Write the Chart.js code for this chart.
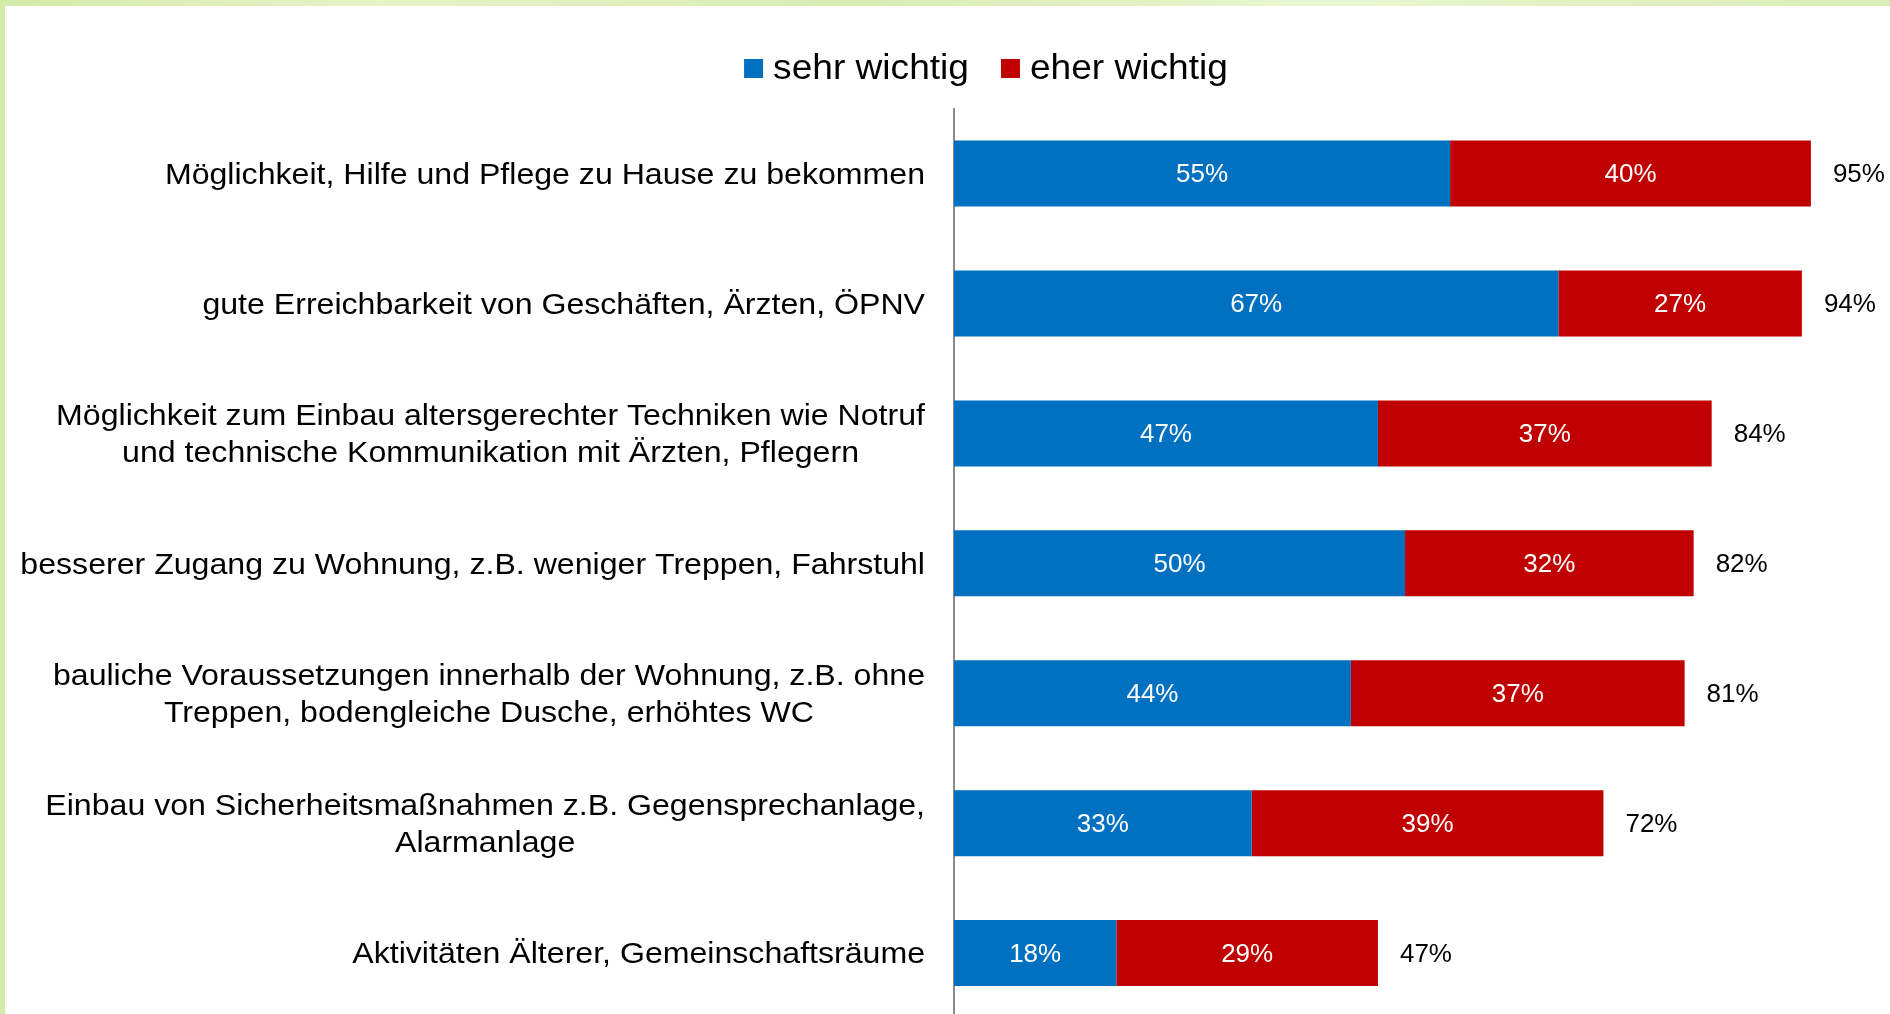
<!DOCTYPE html>
<html>
<head>
<meta charset="utf-8">
<script src="https://cdn.jsdelivr.net/npm/chart.js@4/dist/chart.umd.min.js"></script>
<style>
  html, body { margin: 0; padding: 0; overflow: hidden; width: 1890px; height: 1014px; }
  body { background: linear-gradient(90deg, #d4eaa8 0%, #e6f4c8 20%, #d8ecb2 45%, #eaf6d2 70%, #d9edb4 100%); }
  #wrap { position: absolute; left: 5px; top: 6px; width: 1885px; height: 1016px; background: #ffffff; }
</style>
</head>
<body>
<div id="wrap"><canvas id="c"></canvas></div>
<script>
const categories = [
  ["Möglichkeit, Hilfe und Pflege zu Hause zu bekommen"],
  ["gute Erreichbarkeit von Geschäften, Ärzten, ÖPNV"],
  ["Möglichkeit zum Einbau altersgerechter Techniken wie Notruf", "und technische Kommunikation mit Ärzten, Pflegern"],
  ["besserer Zugang zu Wohnung, z.B. weniger Treppen, Fahrstuhl"],
  ["bauliche Voraussetzungen innerhalb der Wohnung, z.B. ohne", "Treppen, bodengleiche Dusche, erhöhtes WC"],
  ["Einbau von Sicherheitsmaßnahmen z.B. Gegensprechanlage,", "Alarmanlage"],
  ["Aktivitäten Älterer, Gemeinschaftsräume"]
];
const seriesNames = ["sehr wichtig", "eher wichtig"];
const sehrWichtig = [55, 67, 47, 50, 44, 33, 18];
const eherWichtig = [40, 27, 37, 32, 37, 39, 29];
const seriesColors = ["#0070C0", "#C00000"];

const FONT = "'Liberation Sans', Arial, sans-serif";

function stretchText(ctx, text, x, y, sx) {
  ctx.save();
  ctx.translate(x, y);
  ctx.scale(sx, 1);
  ctx.fillText(text, 0, 0);
  ctx.restore();
}

const labelPlugin = {
  id: 'customLabels',
  afterDatasetsDraw(chart) {
    const ctx = chart.ctx;
    const area = chart.chartArea;
    const yScale = chart.scales.y;
    const xScale = chart.scales.x;
    ctx.save();
    // values inside bars
    ctx.font = "25px " + FONT;
    ctx.textBaseline = 'middle';
    ctx.textAlign = 'center';
    chart.data.datasets.forEach((ds, di) => {
      const meta = chart.getDatasetMeta(di);
      meta.data.forEach((bar, i) => {
        const p = bar.getProps(['x', 'y', 'base'], true);
        ctx.fillStyle = '#ffffff';
        stretchText(ctx, ds.data[i] + '%', (p.x + p.base) / 2, p.y + 2, 1.04);
      });
    });
    // totals
    ctx.fillStyle = '#000000';
    ctx.textAlign = 'left';
    chart.data.labels.forEach((lab, i) => {
      const total = chart.data.datasets.reduce((s, ds) => s + ds.data[i], 0);
      const x = xScale.getPixelForValue(total);
      const y = yScale.getPixelForValue(i);
      stretchText(ctx, total + '%', x + 22, y + 2, 1.04);
    });
    // category labels: block right aligned, lines centered
    const sx = 1.07;
    ctx.font = "30px " + FONT;
    ctx.fillStyle = '#000000';
    ctx.textAlign = 'center';
    const lh = 36.5;
    chart.data.labels.forEach((lab, i) => {
      const lines = Array.isArray(lab) ? lab : [lab];
      const w = Math.max(...lines.map(l => ctx.measureText(l).width)) * sx;
      const right = area.left - 29;
      const cx = right - w / 2;
      const y = yScale.getPixelForValue(i);
      lines.forEach((l, k) => {
        stretchText(ctx, l, cx, y + 2 + (k - (lines.length - 1) / 2) * lh, sx);
      });
    });
    // legend
    const lsx = 1.06;
    ctx.font = "35px " + FONT;
    ctx.textAlign = 'left';
    ctx.textBaseline = 'alphabetic';
    const box = 19, gapBox = 10, gapItem = 32;
    let total = 0;
    chart.data.datasets.forEach((ds, di) => {
      total += box + gapBox + ctx.measureText(ds.label).width * lsx + (di ? 0 : gapItem);
    });
    let x = 981 - total / 2;
    const base = 73;
    chart.data.datasets.forEach((ds, di) => {
      ctx.fillStyle = ds.backgroundColor;
      ctx.fillRect(x, base - box - 1, box, box);
      x += box + gapBox;
      ctx.fillStyle = '#000000';
      stretchText(ctx, ds.label, x, base, lsx);
      x += ctx.measureText(ds.label).width * lsx + gapItem;
    });
    ctx.restore();
  }
};

new Chart(document.getElementById('c'), {
  type: 'bar',
  data: {
    labels: categories,
    datasets: [
      { label: seriesNames[0], data: sehrWichtig, backgroundColor: seriesColors[0] },
      { label: seriesNames[1], data: eherWichtig, backgroundColor: seriesColors[1] }
    ]
  },
  options: {
    indexAxis: 'y',
    responsive: true,
    maintainAspectRatio: false,
    animation: false,
    layout: { padding: { top: 102.6, bottom: 4, right: 34, left: 0 } },
    datasets: { bar: { categoryPercentage: 1, barPercentage: 0.508, borderWidth: 0 } },
    plugins: { legend: { display: false }, tooltip: { enabled: false } },
    scales: {
      x: { stacked: true, display: false, min: 0, max: 100 },
      y: {
        stacked: true,
        grid: { display: false },
        border: { display: true, color: '#8a8a8a', width: 2 },
        ticks: { display: false },
        afterFit(scale) { scale.width = 949; }
      }
    }
  },
  plugins: [labelPlugin]
});
</script>
</body>
</html>
